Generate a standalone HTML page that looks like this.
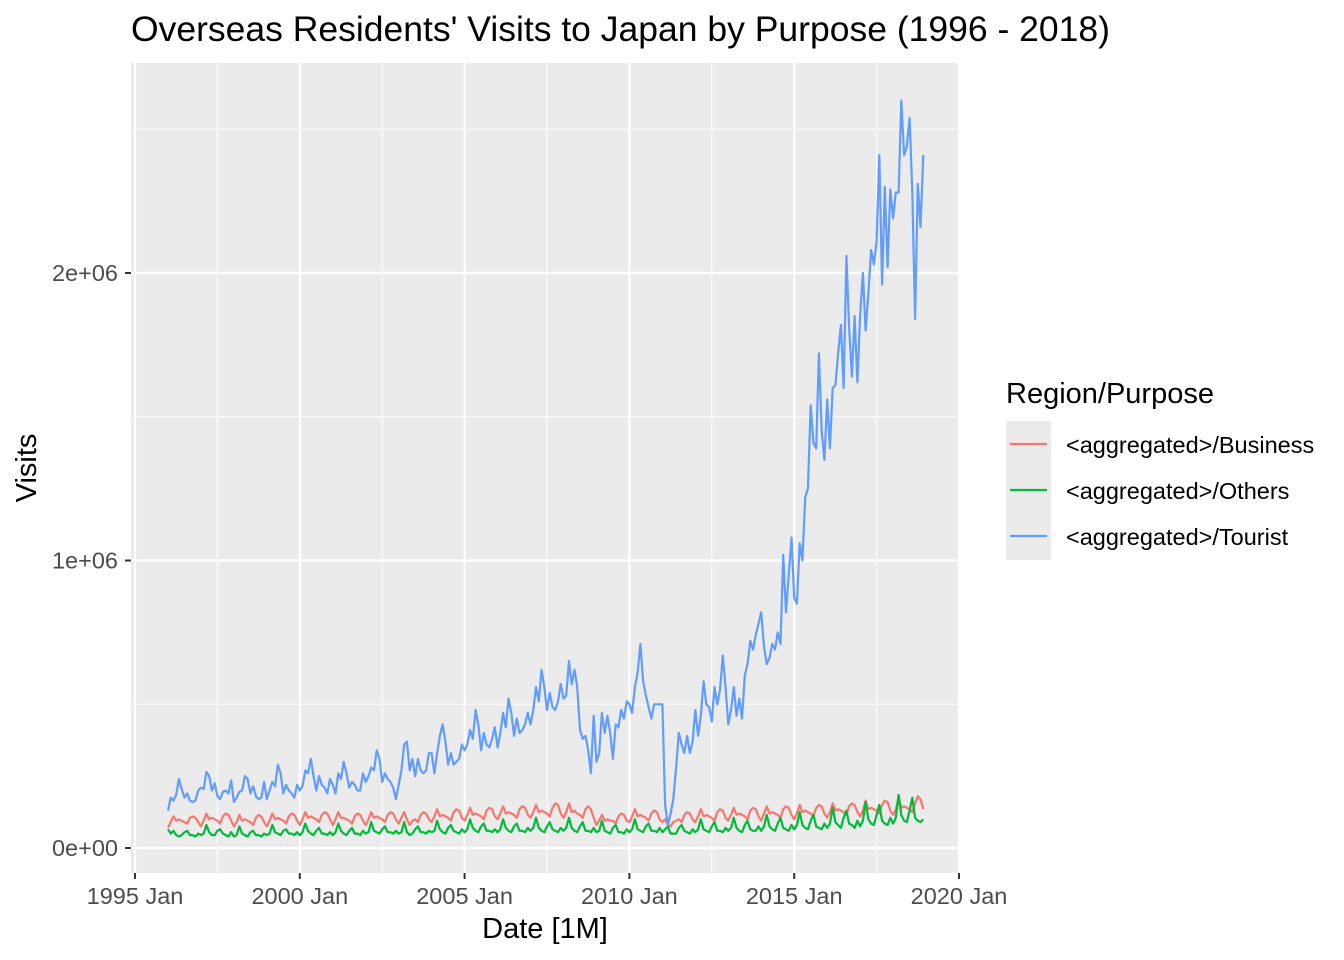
<!DOCTYPE html>
<html><head><meta charset="utf-8"><style>
html,body{margin:0;padding:0;background:#fff;}
svg{display:block;font-family:"Liberation Sans",sans-serif;}
</style></head><body>
<svg id="chart" width="1344" height="960">
<rect x="131" y="63" width="827" height="810" fill="#EBEBEB"/>
<g id="grid"></g><g id="series"></g><g id="axes"></g>
<text x="131" y="41" font-size="35.5" fill="#000">Overseas Residents' Visits to Japan by Purpose (1996 - 2018)</text>
<text x="545" y="938" font-size="29" text-anchor="middle" fill="#000">Date [1M]</text>
<text transform="translate(36,468) rotate(-90)" font-size="29" text-anchor="middle" fill="#000">Visits</text>
<g>
<text x="1006" y="403" font-size="29" fill="#000">Region/Purpose</text>
<rect x="1006" y="421" width="45" height="139" fill="#EBEBEB"/>
<g><line x1="1010" x2="1047" y1="444" y2="444" stroke="#F8766D" stroke-width="2.2"/><text x="1066" y="453" font-size="23.5">&lt;aggregated&gt;/Business</text></g>
<g><line x1="1010" x2="1047" y1="490" y2="490" stroke="#00BA38" stroke-width="2.2"/><text x="1066" y="499" font-size="23.5">&lt;aggregated&gt;/Others</text></g>
<g><line x1="1010" x2="1047" y1="536" y2="536" stroke="#619CFF" stroke-width="2.2"/><text x="1066" y="545" font-size="23.5">&lt;aggregated&gt;/Tourist</text></g>
</g>
</svg>
<script>
const startYear = 1996;
const tourist = [
130,175,165,185,240,205,175,190,165,160,165,200,
210,205,265,250,200,225,180,170,195,200,190,235,
160,175,195,200,250,240,190,215,180,170,175,230,
170,200,230,215,290,260,190,220,200,190,175,220,
200,215,270,260,310,250,200,250,220,210,190,240,
220,190,260,240,300,260,210,230,220,200,200,260,
230,250,280,270,340,310,230,260,240,230,210,170,
220,270,360,370,270,310,250,310,270,260,270,330,
330,260,330,390,430,370,290,330,290,300,310,360,
340,360,410,380,480,430,340,400,360,350,380,420,
350,400,470,420,520,470,390,450,400,410,430,470,
430,480,560,510,620,560,480,540,490,480,510,570,
520,530,650,570,620,560,410,380,390,340,260,460,
300,330,470,400,460,400,310,430,420,480,450,510,
500,470,560,610,710,580,530,490,450,500,500,500,
500,150,80,120,170,280,400,360,330,390,330,370,
480,390,460,580,500,490,440,560,500,550,670,560,
430,480,560,460,520,450,600,640,720,690,740,780,
820,700,640,660,710,690,750,710,1020,820,950,1080,
870,850,1060,1000,1220,1250,1540,1410,1390,1720,1450,1350,
1560,1390,1600,1610,1720,1820,1600,2060,1810,1640,1850,1620,
1850,2000,1800,1930,2080,2030,2110,2410,1960,2300,2020,2290,
2190,2280,2280,2600,2410,2440,2540,2280,1840,2310,2160,2410];
const business = [
70,90,110,95,100,95,90,85,105,110,105,90,
75,95,120,100,105,100,95,85,110,120,115,95,
75,90,115,95,100,95,90,80,105,115,110,90,
75,95,120,100,105,100,95,85,110,120,115,95,
80,100,125,105,110,105,100,90,115,125,120,100,
80,100,125,105,105,100,95,85,110,120,115,95,
80,100,125,105,110,105,100,90,115,125,120,100,
85,105,125,100,80,95,100,90,115,125,120,100,
90,110,135,110,115,110,105,95,125,135,130,105,
95,115,140,115,120,115,110,100,130,140,135,110,
100,120,145,120,125,120,115,105,135,145,140,115,
105,125,150,125,130,125,120,110,140,155,150,120,
105,125,155,125,130,120,115,105,135,145,135,105,
80,95,115,95,100,95,95,85,110,120,115,95,
90,110,135,110,115,110,105,95,120,130,125,100,
90,100,80,75,90,95,100,90,115,125,120,100,
90,110,135,110,115,110,105,95,125,135,130,105,
95,115,140,115,120,115,110,100,130,140,135,110,
95,120,145,120,125,120,115,105,135,145,140,115,
100,120,150,125,130,125,120,110,140,150,145,120,
105,125,155,130,135,130,125,115,145,155,150,125,
110,130,165,135,140,135,130,120,150,165,160,130,
115,135,175,140,145,140,135,125,155,180,170,135];
const others = [
65,50,60,45,40,45,55,60,45,45,40,50,
45,50,80,55,45,45,60,65,50,45,40,55,
40,45,75,50,45,40,55,60,45,45,40,50,
45,50,80,55,50,45,60,65,50,50,45,55,
45,55,85,60,50,45,60,70,50,50,45,55,
45,55,85,60,50,45,60,70,50,50,45,60,
50,55,90,60,55,50,65,75,55,55,50,60,
50,55,90,55,45,50,65,75,55,55,50,60,
55,60,95,65,55,50,70,80,60,55,50,65,
55,65,100,70,60,55,75,85,60,60,55,65,
55,65,100,70,60,55,75,85,60,60,55,70,
60,70,105,70,60,55,75,90,65,60,55,70,
60,70,105,70,60,55,75,90,60,60,55,70,
55,60,95,60,55,50,70,80,55,55,50,65,
55,65,100,65,60,55,75,85,60,60,55,70,
55,65,75,50,50,50,70,80,60,55,50,65,
55,65,100,65,60,55,75,90,60,60,55,70,
60,70,105,70,60,55,80,95,65,60,60,75,
60,75,115,75,65,60,85,105,70,65,60,80,
65,80,125,80,70,65,95,115,75,70,65,85,
70,85,140,90,80,70,105,130,85,80,70,95,
75,95,160,100,85,80,115,150,95,85,80,105,
85,105,185,115,95,90,130,175,105,95,90,100];
const xTicks = [1995,2000,2005,2010,2015,2020];
const xTickLabels = ["1995 Jan","2000 Jan","2005 Jan","2010 Jan","2015 Jan","2020 Jan"];
const yTicks = [0,1000000,2000000];
const yTickLabels = ["0e+00","1e+06","2e+06"];

const NS="http://www.w3.org/2000/svg";
const xScale = t => 135 + (t-1995)*32.96;
const yScale = v => 848 - v*0.0002875;
function mk(tag,attrs,parent){const e=document.createElementNS(NS,tag);for(const k in attrs)e.setAttribute(k,attrs[k]);parent.appendChild(e);return e;}
const grid=document.getElementById('grid'), axes=document.getElementById('axes'), ser=document.getElementById('series');
for(let i=0;i<xTicks.length-1;i++){const x=xScale(xTicks[i]+2.5);
 const l=mk('line',{x1:x,x2:x,y1:63,y2:873,stroke:'#fff','stroke-width':1},grid);
 
 }
for(let i=0;i<3;i++){const y=yScale(yTicks[0]+ (i+0.5)*1000000);
 const l=mk('line',{x1:131,x2:958,y1:y,y2:y,stroke:'#fff','stroke-width':1},grid);
 
 }
xTicks.forEach((t,i)=>{const x=xScale(t);
 const l=mk('line',{x1:x,x2:x,y1:63,y2:873,stroke:'#fff','stroke-width':2.2},grid);
 
 
 const tk=mk('line',{x1:x,x2:x,y1:873,y2:879,stroke:'#333','stroke-width':2},axes);
 
 
 const tx=mk('text',{x:x,y:904,'font-size':23.5,'text-anchor':'middle',fill:'#4D4D4D'},axes);
 tx.textContent=xTickLabels[i];
 
 });
yTicks.forEach((v,i)=>{const y=yScale(v);
 const l=mk('line',{x1:131,x2:958,y1:y,y2:y,stroke:'#fff','stroke-width':2.2},grid);
 
 
 const tk=mk('line',{x1:125,x2:131,y1:y,y2:y,stroke:'#333','stroke-width':2},axes);
 
 
 const tx=mk('text',{x:118,y:y+8,'font-size':23.5,'text-anchor':'end',fill:'#4D4D4D'},axes);
 tx.textContent=yTickLabels[i];
 
 });
function line(arr,color,name){
 const pts=arr.map((v,i)=>xScale(startYear+i/12).toFixed(1)+','+yScale(v*1000).toFixed(1)).join(' ');
 const p=mk('polyline',{points:pts,fill:'none',stroke:color,'stroke-width':2.2,'stroke-linejoin':'round'},ser);
 
 }
line(business,'#F8766D','business-line');
line(others,'#00BA38','others-line');
line(tourist,'#619CFF','tourist-line');
</script>
</body></html>
